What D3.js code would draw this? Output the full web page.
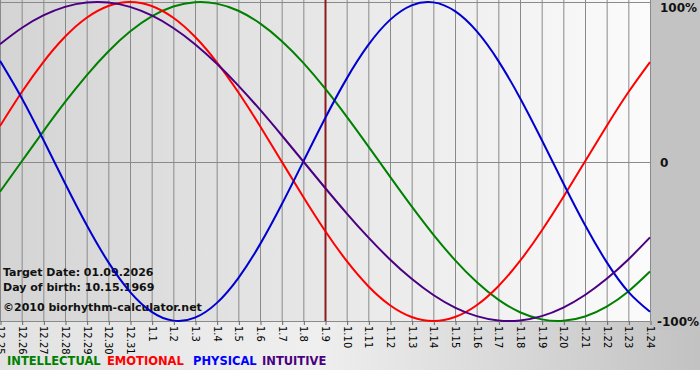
<!DOCTYPE html>
<html>
<head>
<meta charset="utf-8">
<script src="https://cdn.jsdelivr.net/npm/d3@7"></script>
<style>
  body { margin: 0; background: #fff; }
  svg { display: block; font-family: "DejaVu Sans", Verdana, sans-serif; }
</style>
</head>
<body>
<div id="chart"></div>
<script>
// day labels along the bottom (12.25 .. 1.24)
var days = ["12.25","12.26","12.27","12.28","12.29","12.30","12.31",
  "1.1","1.2","1.3","1.4","1.5","1.6","1.7","1.8","1.9","1.10","1.11","1.12",
  "1.13","1.14","1.15","1.16","1.17","1.18","1.19","1.20","1.21","1.22","1.23","1.24"];

// values read per day, -1 .. 1
var intellectual = [-0.1893,0,0.1893,0.3717,0.5406,0.6901,0.8146,0.9096,0.9718,0.9989,0.9898,
  0.945,0.866,0.7557,0.6182,0.4582,0.2817,0.0951,-0.0951,-0.2817,-0.4582,-0.6182,-0.7557,
  -0.866,-0.945,-0.9898,-0.9989,-0.9718,-0.9096,-0.8146,-0.6901];
var emotional = [0.2225,0.4339,0.6235,0.7818,0.901,0.9749,1,0.9749,0.901,0.7818,0.6235,0.4339,
  0.2225,0,-0.2225,-0.4339,-0.6235,-0.7818,-0.901,-0.9749,-1,-0.9749,-0.901,-0.7818,-0.6235,
  -0.4339,-0.2225,0,0.2225,0.4339,0.6235];
var physical = [0.6311,0.3984,0.1362,-0.1362,-0.3984,-0.6311,-0.817,-0.9423,-0.9977,-0.9791,
  -0.8879,-0.7308,-0.5196,-0.2698,0,0.2698,0.5196,0.7308,0.8879,0.9791,0.9977,0.9423,0.817,
  0.6311,0.3984,0.1362,-0.1362,-0.3984,-0.6311,-0.817,-0.9423];
var intuitive = [0.7357,0.8372,0.9158,0.9694,0.9966,0.9966,0.9694,0.9158,0.8372,0.7357,0.6142,
  0.4759,0.3247,0.1646,0,-0.1646,-0.3247,-0.4759,-0.6142,-0.7357,-0.8372,-0.9158,-0.9694,
  -0.9966,-0.9966,-0.9694,-0.9158,-0.8372,-0.7357,-0.6142,-0.4759];

var yTicks = [1, 0, -1];
var yTickLabels = ["100%", "0", "-100%"];
var targetDay = "1.9";
var infoLines = ["Target Date: 01.09.2026", "Day of birth: 10.15.1969", "\u00a92010 biorhythm-calculator.net"];

var series = [
  { name: "INTELLECTUAL", values: intellectual, color: "#008000" },
  { name: "EMOTIONAL", values: emotional, color: "#ff0000" },
  { name: "PHYSICAL", values: physical, color: "#0000d0" },
  { name: "INTUITIVE", values: intuitive, color: "#4b0082" }
];

var W = 700, H = 380;
var plot = { left: 0, right: 651, top: 1, bottom: 321 };

var svg = d3.select("#chart").append("svg")
  .attr("width", W).attr("height", H);

var defs = svg.append("defs");
var gBg = defs.append("linearGradient").attr("id", "bg");
gBg.append("stop").attr("offset", "0%").attr("stop-color", "#e2e2e2");
gBg.append("stop").attr("offset", "45%").attr("stop-color", "#efefef");
gBg.append("stop").attr("offset", "100%").attr("stop-color", "#c2c2c2");
var gPlot = defs.append("linearGradient").attr("id", "plotbg");
gPlot.append("stop").attr("offset", "0%").attr("stop-color", "#d4d4d4");
gPlot.append("stop").attr("offset", "100%").attr("stop-color", "#fbfbfb");
defs.append("clipPath").attr("id", "clip").append("rect")
  .attr("x", plot.left).attr("y", 0)
  .attr("width", plot.right - plot.left).attr("height", plot.bottom + 1);

// page backgrounds
svg.append("rect").attr("width", W).attr("height", 370).attr("fill", "url(#bg)");
svg.append("rect").attr("x", plot.right).attr("width", W - plot.right).attr("height", 330).attr("fill", "#c3c3c3");
svg.append("rect").attr("x", plot.left).attr("y", 0)
  .attr("width", plot.right - plot.left).attr("height", plot.bottom)
  .attr("fill", "url(#plotbg)");

var x = d3.scalePoint().domain(days).range([0, 650]);
var y = d3.scaleLinear().domain([-1, 1]).range([plot.bottom, plot.top + 1]);

// vertical day lines
svg.append("g").selectAll("line").data(days).join("line")
  .attr("x1", d => x(d) + 0.5).attr("x2", d => x(d) + 0.5)
  .attr("y1", 0).attr("y2", plot.bottom)
  .attr("stroke", "#8a8a8a").attr("stroke-width", 1);

// horizontal lines at 100%, 0, -100%
svg.append("g").selectAll("line").data(yTicks).join("line")
  .attr("x1", 0).attr("x2", 650)
  .attr("y1", d => Math.round(y(d)) + 0.5).attr("y2", d => Math.round(y(d)) + 0.5)
  .attr("stroke", "#8a8a8a");

// target date line
svg.append("line")
  .attr("x1", x(targetDay) + 0.5).attr("x2", x(targetDay) + 0.5)
  .attr("y1", 0).attr("y2", plot.bottom)
  .attr("stroke", "#8b1c1c").attr("stroke-width", 2);

// info text
svg.append("g").selectAll("text").data(infoLines).join("text")
  .attr("x", 3).attr("y", (d, i) => [276, 291, 311][i])
  .attr("font-size", 11).attr("font-weight", "bold").attr("fill", "#111")
  .text(d => d);

// curves
var line = d3.line()
  .x((d, i) => x(days[i]))
  .y(d => y(d))
  .curve(d3.curveNatural);

svg.append("g").attr("clip-path", "url(#clip)")
  .selectAll("path").data(series).join("path")
  .attr("fill", "none")
  .attr("stroke", d => d.color)
  .attr("stroke-width", 2)
  .attr("d", d => line(d.values));

// x axis labels, rotated
var xAxis = svg.append("g")
  .attr("transform", "translate(0," + (plot.bottom) + ")")
  .call(d3.axisBottom(x).tickSize(4).tickPadding(0).tickFormat(d => d));
xAxis.select(".domain").remove();
xAxis.selectAll("line").attr("stroke", "#666").attr("transform", "translate(0.5,0)");
xAxis.selectAll("text")
  .attr("transform", "rotate(90)")
  .attr("x", 5).attr("y", 0).attr("dy", "0.35em")
  .attr("text-anchor", "start")
  .attr("font-size", 10).attr("font-family", "DejaVu Sans, Verdana, sans-serif")
  .attr("fill", "#000");

// right side percentage labels
svg.append("g").selectAll("text").data(yTicks).join("text")
  .attr("x", (d, i) => i === 2 ? 657 : 660)
  .attr("y", d => d === 1 ? 12 : y(d) + 5)
  .attr("font-size", 12).attr("font-weight", "bold").attr("fill", "#111")
  .text((d, i) => yTickLabels[i]);

// legend
var legX = [7, 107, 193, 262];
svg.append("g").selectAll("text").data(series).join("text")
  .attr("x", (d, i) => legX[i]).attr("y", 365)
  .attr("font-size", 11.5).attr("font-weight", "bold")
  .attr("fill", d => d.name === "PHYSICAL" ? "#0000ff" : d.color)
  .text(d => d.name);
</script>
</body>
</html>
